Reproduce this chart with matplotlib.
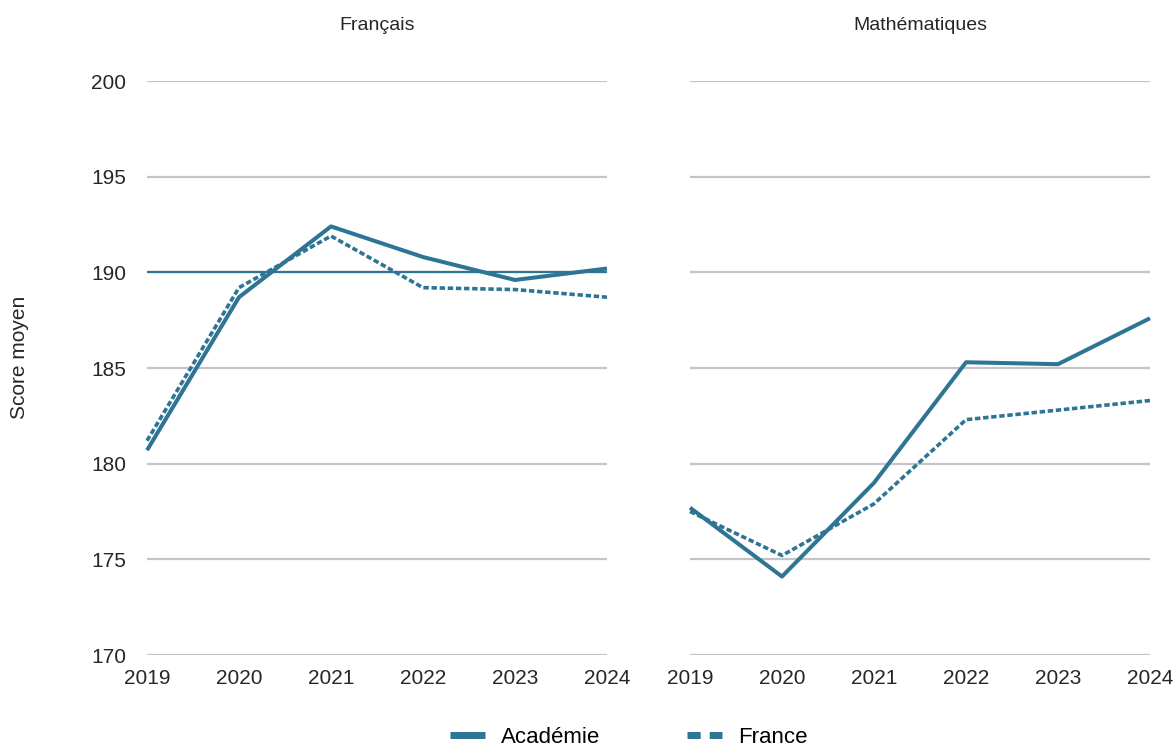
import matplotlib

matplotlib.use("Agg")
import matplotlib.pyplot as plt
from matplotlib.lines import Line2D

years = [2019, 2020, 2021, 2022, 2023, 2024]
year_labels = ["2019", "2020", "2021", "2022", "2023", "2024"]

francais_academie = [180.7, 188.7, 192.4, 190.8, 189.6, 190.2]
francais_france = [181.2, 189.2, 191.9, 189.2, 189.1, 188.7]
maths_academie = [177.7, 174.1, 179.0, 185.3, 185.2, 187.6]
maths_france = [177.5, 175.2, 177.9, 182.3, 182.8, 183.3]
francais_reference = 190

y_ticks = [170, 175, 180, 185, 190, 195, 200]
panel_titles = ["Français", "Mathématiques"]
series_names = ["Académie", "France"]

COLOR = "#2e7594"
GRID = "#c4c4c6"
TEXT = "#262626"

plt.rcParams["font.family"] = ["Liberation Sans", "DejaVu Sans"]

fig = plt.figure(figsize=(11.75, 7.53), dpi=100)
ax_left = fig.add_axes([147 / 1175, 1 - 655 / 753, 460 / 1175, 574 / 753])
ax_right = fig.add_axes([690 / 1175, 1 - 655 / 753, 460 / 1175, 574 / 753])

panels = [
    (ax_left, francais_academie, francais_france),
    (ax_right, maths_academie, maths_france),
]

for i, (ax, acad, fr) in enumerate(panels):
    for y in y_ticks:
        ax.axhline(y, color=GRID, lw=1.6, zorder=1)
    ax.plot(years, acad, color=COLOR, lw=2.9, solid_capstyle="butt", zorder=3, clip_on=False)
    ax.plot(years, fr, color=COLOR, lw=2.6, linestyle=(0, (1.5, 0.75)), zorder=3, clip_on=False)
    ax.set_xlim(years[0], years[-1])
    ax.set_ylim(170, 200)
    ax.set_xticks(years)
    ax.set_xticklabels(year_labels, fontsize=15, color=TEXT)
    ax.tick_params(axis="x", length=0, pad=10)
    ax.set_yticks(y_ticks)
    if i == 0:
        ax.set_yticklabels([str(v) for v in y_ticks], fontsize=15, color=TEXT)
        ax.tick_params(axis="y", length=0, pad=15)
    else:
        ax.tick_params(axis="y", length=0, labelleft=False)
    for s in ax.spines.values():
        s.set_visible(False)
    ax.set_title(panel_titles[i], fontsize=14, color=TEXT, pad=37)

ax_left.axhline(francais_reference, color=COLOR, lw=1.6, zorder=2)

fig.text(20 / 1175, 1 - 357 / 753, "Score moyen", rotation=90, va="center", ha="center",
         fontsize=15, color=TEXT)

handles = [
    Line2D([], [], color=COLOR, lw=5, solid_capstyle="butt"),
    Line2D([], [], color=COLOR, lw=5, linestyle=(0, (1.9, 1.3))),
]
fig.legend(handles, series_names, loc="lower center", bbox_to_anchor=(0.535, -0.02), ncol=2,
           frameon=False, prop={"size": 16}, handlelength=1.6,
           columnspacing=3.9, handletextpad=0.7)

fig.savefig("out.png", dpi=100)
